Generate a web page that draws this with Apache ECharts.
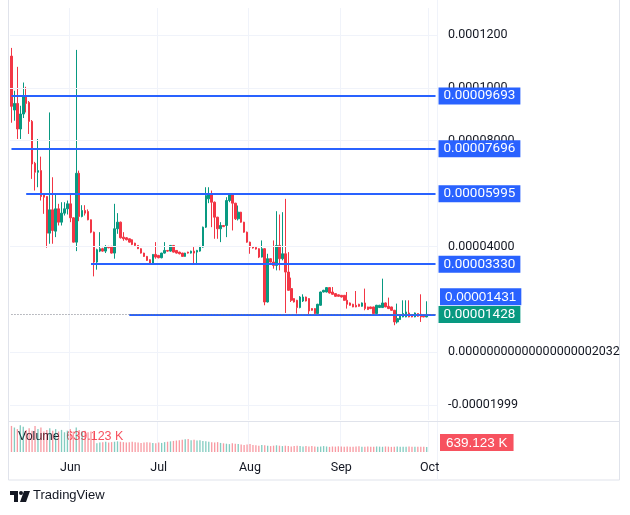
<!DOCTYPE html>
<html>
<head>
<meta charset="utf-8">
<script src="https://cdn.jsdelivr.net/npm/echarts@6/dist/echarts.min.js"></script>
<style>html,body{margin:0;padding:0;background:#fff}#chart{width:630px;height:515px}</style>
</head>
<body>
<div id="chart"></div>
<script>
// prices are in units of 1e-8 (9693 -> 0.00009693)
var START = '2024-05-12';
var EXTRA_DAYS = 3; // empty space after last candle

// [open, close, low, high]
var candles = [
  [11200,9300,8680,11510],[9160,9409,8756,9888],[9409,8442,8065,10794],[8442,9009,8065,9322],
  [9009,9699,8857,10201],[9699,9409,9069,10039],[9447,8730,8254,9500],[8730,7121,6555,8782],
  [7146,6806,6114,7200],[6806,6869,6240,8065],[6869,5887,5737,7397],[5989,5862,5234,6000],
  [5887,4503,3951,5900],[4503,5385,4102,9069],[5385,4604,4102,6617],[4578,5423,4352,5989],
  [5423,4918,4793,5612],[4918,5259,4793,5673],[5259,5423,5170,5673],[5423,5612,5208,5737],
  [5612,5083,4918,6012],[5083,4163,4150,5100],[4163,6767,3823,11435],[6767,5133,4955,6869],
  [5133,5359,5100,5560],[5359,5259,5170,5560],[5321,5008,4990,5400],[5008,4540,4500,5020],
  [4540,3408,2868,4560],[3408,3876,3121,3914],[3823,3914,3785,4540],[3914,3823,3800,3950],
  [3823,4000,3750,4050],[4000,3950,3930,4020],[4000,3748,3730,4020],[3748,4668,3536,5612],
  [4668,4918,4478,5259],[4918,4328,4300,4940],[4352,4290,4214,4540],[4328,4253,4230,4350],
  [4290,4163,4150,4300],[4253,4076,4050,4270],[4125,4038,4020,4140],[4038,3914,3900,4050],
  [3914,3748,3730,3930],[3748,3623,3600,3760],[3623,3472,3450,3640],[3498,3321,3300,3510],
  [3321,3698,3300,3710],[3698,3597,3536,4163],[3660,3573,3550,3680],[3573,3748,3550,3760],
  [3748,3849,3730,4163],[3849,3823,3800,3860],[3823,4038,3800,4050],[4038,3785,3770,4050],
  [3849,3748,3730,3860],[3785,3723,3700,3800],[3748,3623,3610,3760],[3623,3748,3610,3760],
  [3785,3748,3730,3800],[3748,3823,3730,3840],[3823,3748,3347,3975],[3785,3849,3347,3870],
  [3823,4000,3800,4020],
  [3974,4729,3950,4750],[4729,5925,4700,6239],[5800,5989,5637,6239],[5989,5673,4729,6114],
  [5673,5107,4290,5700],[5107,4668,4290,5120],[4668,4793,4163,4918],[4793,4750,4730,4800],
  [4793,5737,4352,5862],[5737,5963,5673,6000],[5963,5636,4604,6000],[5636,5045,5000,5650],
  [5045,5296,4982,5548],[5296,4918,4900,5310],[4918,4540,4520,4930],[4540,4163,4140,4560],
  [4163,3974,3723,4180],[3990,3940,3920,4000],[3960,3900,3880,3970],[3914,3597,3560,3930],
  [3597,3914,3580,4227],[3914,1898,1774,3930],[1898,3536,1880,3723],[3536,3408,3390,3550],
  [3408,3283,3159,4227],[3283,4038,3095,5333],[4038,3536,3095,5208],[3536,3723,3472,5296],
  [3723,3031,1483,5800],[3031,2340,2330,3785],[2404,1962,1898,2819],[2027,1898,1880,2040],
  [1962,1687,1460,1980],[1687,2087,1660,2120],[1936,2087,1898,2189],[2087,1936,1920,2100],
  [2027,1559,1434,2040],[1649,1585,1570,1660],[1649,1460,1440,1660],[1460,1812,1440,1830],
  [1774,2276,1760,2290],[2276,2340,2260,2360],[2276,2442,2260,2460],[2442,2238,2220,2460],
  [2276,2189,2170,2464],[2215,2113,2100,2230],[2170,2113,2100,2180],[2151,2087,2070,2160],
  [2151,1962,1950,2160],[1962,1812,1649,2276],[1862,1774,1760,1880],[1812,1711,1700,1830],
  [1774,1711,1700,2314],[1812,1736,1720,1830],[1736,1862,1720,1880],[1862,1649,1585,2404],
  [1711,1611,1600,1720],[1711,1649,1630,1720],[1711,1460,1440,1720],[1460,1774,1440,1790],
  [1687,1774,1670,1790],[1687,1862,1670,2781],[1862,1711,1700,1880],[1736,1649,1630,2064],
  [1711,1585,1570,1720],[1585,1144,1019,1600],[1144,1270,1083,1837],[1233,1396,1220,1410],
  [1333,1460,1320,1962],[1333,1522,1320,1962],[1484,1333,1320,1962],[1396,1333,1320,1410],
  [1333,1484,1320,1500],[1460,1358,1340,1470],[1434,1333,1144,2189],[1396,1333,1320,1410],
  [1333,1428,1320,1925]
];

// volume in thousands
var volumes = [
  3300,3100,2900,3400,3200,2800,3000,2700,3300,2900,3100,2600,2800,3000,2700,2900,2600,2800,2500,2700,
  2900,2600,3100,2800,2600,2700,2500,2600,2400,
  1100,1200,1250,1300,1200,1250,1300,1350,1300,1250,1200,1250,1300,1250,1200,1150,1200,1250,1200,1150,
  1100,1200,1150,1250,1300,1350,1400,
  1450,1500,1550,1600,1650,1500,1550,1450,1500,1400,1350,1300,1250,1200,1250,1150,1100,1050,1000,1100,
  1050,1000,950,900,950,1000,900,850,800,900,850,800,750,800,850,800,750,800,750,700,750,800,750,700,750,
  700,750,700,650,700,750,700,650,700,680,720,700,650,700,680,650,700,720,680,650,
  700,680,650,700,680,660,700,680,650,670,700,680,650,660,690,670,650,660,680,650,639.123
];

var levels = [9693, 7696, 5995, 3330, 1431];
var levelStart = [0, 0, 5, 27, 40];
var lastPrice = 1428;

var gridValues = [12000, 10000, 8000, 4000, 0, -2000];
var gridTexts = ['0.0001200', '0.0001000', '0.00008000', '0.00004000', '0.00000000000000000002032', '-0.00001999'];

var monthNames = ['Jan','Feb','Mar','Apr','May','Jun','Jul','Aug','Sep','Oct','Nov','Dec'];

var dates = [];
var d0 = new Date(START + 'T00:00:00Z');
for (var i = 0; i < candles.length + EXTRA_DAYS; i++) {
    var d = new Date(d0.getTime() + i * 86400000);
    dates.push(d.toISOString().slice(0, 10));
}
var lastIdx = dates.length - 1;
var isMonthStart = function (idx, val) { return val.slice(8) === '01'; };

var UP = '#089981', DOWN = '#f23645';
var volData = volumes.map(function (v, i) {
    var c = candles[i];
    return { value: v, itemStyle: { color: c[1] >= c[0] ? 'rgba(8,153,129,0.5)' : 'rgba(242,54,69,0.5)' } };
});

var fmt = function (v) { return (v / 1e8).toFixed(8); };
var tagStyle = { color: '#fff', fontSize: 13.5, backgroundColor: '#2962ff', padding: [2, 5, 1, 5] };
var levelLines = levels.map(function (v, i) {
    return [
        { coord: [levelStart[i], v] },
        { coord: [lastIdx, v], label: { show: i !== 4, formatter: fmt(v) } }
    ];
});
levelLines.push([
    { coord: [0, lastPrice], lineStyle: { color: '#787b86', type: [1, 2], width: 1 } },
    { coord: [lastIdx, lastPrice], label: { show: true, formatter: fmt(lastPrice), backgroundColor: UP } }
]);

var chart = echarts.init(document.getElementById('chart'));
chart.setOption({
    animation: false,
    textStyle: { fontFamily: 'Roboto' },
    grid: [
        { left: 10, right: 193, top: 8, height: 412 },
        { left: 10, right: 193, top: 422, height: 30 }
    ],
    xAxis: [{
        type: 'category', gridIndex: 0, data: dates,
        axisLine: { show: false }, axisTick: { show: false }, axisLabel: { show: false },
        splitLine: { show: true, interval: isMonthStart, lineStyle: { color: '#f0f3fa' } }
    }, {
        type: 'category', gridIndex: 1, data: dates,
        axisLine: { show: false }, axisTick: { show: false },
        axisLabel: {
            interval: isMonthStart, margin: 9, color: '#131722', fontSize: 12.5,
            formatter: function (v) { return monthNames[+v.slice(5, 7) - 1]; }
        },
        splitLine: { show: true, interval: isMonthStart, lineStyle: { color: '#f0f3fa' } }
    }],
    yAxis: [
        { type: 'value', gridIndex: 0, min: -2566, max: 13020, show: false, splitLine: { show: false } },
        { type: 'value', gridIndex: 1, min: 0, max: 3800, show: false, splitLine: { show: false } }
    ],
    series: [{
        type: 'line', data: dates.map(function () { return '-'; }), z: 1, silent: true,
        markLine: {
            symbol: 'none', silent: true,
            lineStyle: { color: '#f0f3fa', type: 'solid', width: 1 },
            label: { position: 'end', distance: 11, color: '#131722', fontSize: 12.5, padding: [3, 0, 0, 0] },
            data: gridValues.map(function (v, i) { return { yAxis: v, label: { formatter: gridTexts[i] } }; })
        }
    }, {
        type: 'candlestick', data: candles, z: 2, barWidth: '70%',
        itemStyle: { color: UP, color0: DOWN, borderColor: UP, borderColor0: DOWN, borderWidth: 1 },
        markLine: {
            symbol: 'none', silent: true,
            lineStyle: { color: '#2962ff', type: 'solid', width: 2 },
            label: Object.assign({ position: 'end', distance: 3 }, tagStyle),
            data: levelLines
        }
    }, {
        type: 'bar', xAxisIndex: 1, yAxisIndex: 1, data: volData, barWidth: '45%'
    }],
    graphic: [
        { id: 'frame', type: 'rect', shape: { x: 8.5, y: -1, width: 611, height: 481 }, style: { fill: 'none', stroke: '#e0e3eb' }, silent: true },
        { id: 'sep1', type: 'line', shape: { x1: 437.5, y1: 0, x2: 437.5, y2: 480 }, style: { stroke: '#f0f3fa' }, silent: true },
        { id: 'sep2', type: 'line', shape: { x1: 9, y1: 421.5, x2: 619, y2: 421.5 }, style: { stroke: '#e0e3eb' }, silent: true },
        { id: 'volTitle', type: 'text', left: 18, top: 430, style: { rich: { a: { fill: '#131722', fontSize: 12.5 }, b: { fill: '#f7525f', fontSize: 12.5 } }, text: '{a|Volume}  {b|639.123 K}' } },
        { id: 'volTag', type: 'text', left: 440, top: 434, style: { text: '639.123 K', fill: '#fff', fontSize: 13.5, backgroundColor: '#f7525f', padding: [2, 6, 1, 6] } },
        { id: 'logo', type: 'group', left: 10, top: 491, children: [
            { type: 'rect', shape: { x: 0, y: 0, width: 8, height: 4 }, style: { fill: '#131722' } },
            { type: 'rect', shape: { x: 4, y: 0, width: 4, height: 11 }, style: { fill: '#131722' } },
            { type: 'circle', shape: { cx: 11, cy: 2, r: 2 }, style: { fill: '#131722' } },
            { type: 'polygon', shape: { points: [[14, 0], [20, 0], [16, 11], [10, 11]] }, style: { fill: '#131722' } }
        ] },
        { id: 'brand', type: 'text', left: 33, top: 489, style: { text: 'TradingView', fill: '#131722', fontSize: 13 } }
    ]
});

// label of the 1431 level sits above its line, as the last-price tag covers it
var p = chart.convertToPixel({ gridIndex: 0 }, [lastIdx, levels[4]]);
chart.setOption({
    graphic: [{
        id: 'tag1431', type: 'text', left: 440, top: p[1] - 26,
        style: { text: fmt(levels[4]), fill: '#fff', fontSize: 13.5, backgroundColor: '#2962ff', padding: [2, 5, 1, 5] }
    }]
});
</script>
</body>
</html>
